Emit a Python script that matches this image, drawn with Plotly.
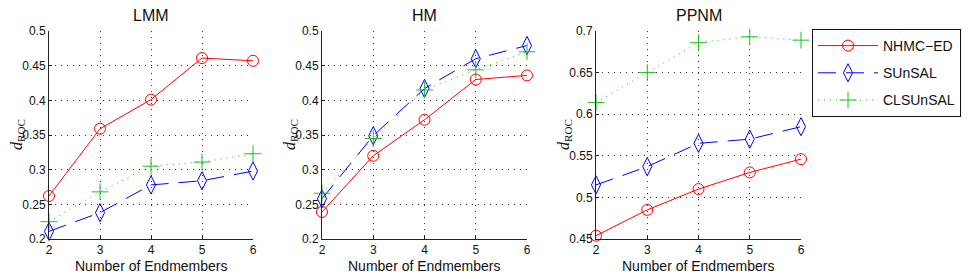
import plotly.graph_objects as go

endmembers = [2, 3, 4, 5, 6]
panels = ["LMM", "HM", "PPNM"]

lmm_nhmc = [0.262, 0.359, 0.401, 0.461, 0.457]
lmm_sunsal = [0.211, 0.238, 0.278, 0.284, 0.298]
lmm_clsunsal = [0.225, 0.268, 0.305, 0.311, 0.323]

hm_nhmc = [0.239, 0.320, 0.372, 0.430, 0.436]
hm_sunsal = [0.258, 0.349, 0.417, 0.460, 0.479]
hm_clsunsal = [0.266, 0.345, 0.415, 0.444, 0.470]

ppnm_nhmc = [0.454, 0.485, 0.510, 0.530, 0.546]
ppnm_sunsal = [0.515, 0.537, 0.565, 0.570, 0.585]
ppnm_clsunsal = [0.614, 0.650, 0.686, 0.693, 0.689]

y_ranges = [[0.2, 0.5], [0.2, 0.5], [0.45, 0.7]]
series_names = ["NHMC\u2212ED", "SUnSAL", "CLSUnSAL"]

W, H = 977, 279
x_px = [(49, 253), (322, 527), (596, 801)]
y_top, y_bot = 31, 239

data = [
    [lmm_nhmc, lmm_sunsal, lmm_clsunsal],
    [hm_nhmc, hm_sunsal, hm_clsunsal],
    [ppnm_nhmc, ppnm_sunsal, ppnm_clsunsal],
]

styles = [
    dict(color="#ff0000", dash="solid", symbol="circle-open", size=11),
    dict(color="#0000ff", dash="18px,10px", symbol="diamond-tall-open", size=13),
    dict(color="#22c022", dash="1px,5px", symbol="cross-thin-open", size=12),
]

fig = go.Figure()
FONT = "Liberation Sans, Arial, sans-serif"

for i, panel in enumerate(panels):
    xa = "x" if i == 0 else f"x{i+1}"
    ya = "y" if i == 0 else f"y{i+1}"
    for j, name in enumerate(series_names):
        st = styles[j]
        fig.add_trace(go.Scatter(
            x=endmembers, y=data[i][j], mode="lines+markers", name=name,
            xaxis=xa, yaxis=ya, showlegend=(i == 0), legendgroup=f"g{j}",
            line=dict(color=st["color"], width=1, dash=st["dash"]),
            marker=dict(symbol=st["symbol"], size=st["size"],
                        color=st["color"], line=dict(color=st["color"], width=1)),
            cliponaxis=False,
        ))
    dom_x = [x_px[i][0] / W, x_px[i][1] / W]
    dom_y = [1 - y_bot / H, 1 - y_top / H]
    common = dict(showline=True, linecolor="#222", linewidth=1, mirror=False,
                  ticks="inside", ticklen=3, tickcolor="#222", showgrid=True,
                  gridcolor="#333", griddash="1px,5px", gridwidth=1,
                  zeroline=False, automargin=False, fixedrange=True,
                  tickfont=dict(family=FONT, size=12, color="#111"))
    axx = dict(domain=dom_x, range=[2, 6], tickvals=endmembers, anchor=ya, **common)
    lo, hi = y_ranges[i]
    axy = dict(domain=dom_y, range=[lo, hi], dtick=0.05, tick0=lo, anchor=xa, **common)
    key = "" if i == 0 else str(i + 1)
    fig.update_layout(**{f"xaxis{key}": axx, f"yaxis{key}": axy})
    cx = (x_px[i][0] + x_px[i][1]) / 2 / W
    fig.add_annotation(text=panel, x=cx, y=1 - 16 / H, xref="paper", yref="paper",
                       showarrow=False, font=dict(family=FONT, size=16, color="#111"),
                       xanchor="center", yanchor="middle")
    fig.add_annotation(text="Number of Endmembers", x=cx, y=1 - 266 / H,
                       xref="paper", yref="paper", showarrow=False,
                       font=dict(family=FONT, size=14, color="#111"),
                       xanchor="center", yanchor="middle")
    fig.add_annotation(text="<i>d</i><sub>ROC</sub>", x=(x_px[i][0] - 32) / W,
                       y=1 - 135 / H, xref="paper", yref="paper", showarrow=False,
                       textangle=-90,
                       font=dict(family="Liberation Serif, Times New Roman, serif",
                                 size=16, color="#111"),
                       xanchor="center", yanchor="middle")

fig.update_layout(
    template="none",
    width=W, height=H,
    margin=dict(l=0, r=0, t=0, b=0, pad=0, autoexpand=False),
    paper_bgcolor="white", plot_bgcolor="white",
    showlegend=True,
    legend=dict(x=812 / W, y=1 - 29 / H, xanchor="left", yanchor="top",
                bordercolor="#111", borderwidth=1, bgcolor="white",
                font=dict(family=FONT, size=14, color="#111"),
                tracegroupgap=6, traceorder="grouped", itemwidth=60,
                entrywidth=112),
)

fig.write_html("out.html", config={"displayModeBar": False, "staticPlot": True},
               post_script="document.body.style.margin='0';document.body.style.overflow='hidden';")
